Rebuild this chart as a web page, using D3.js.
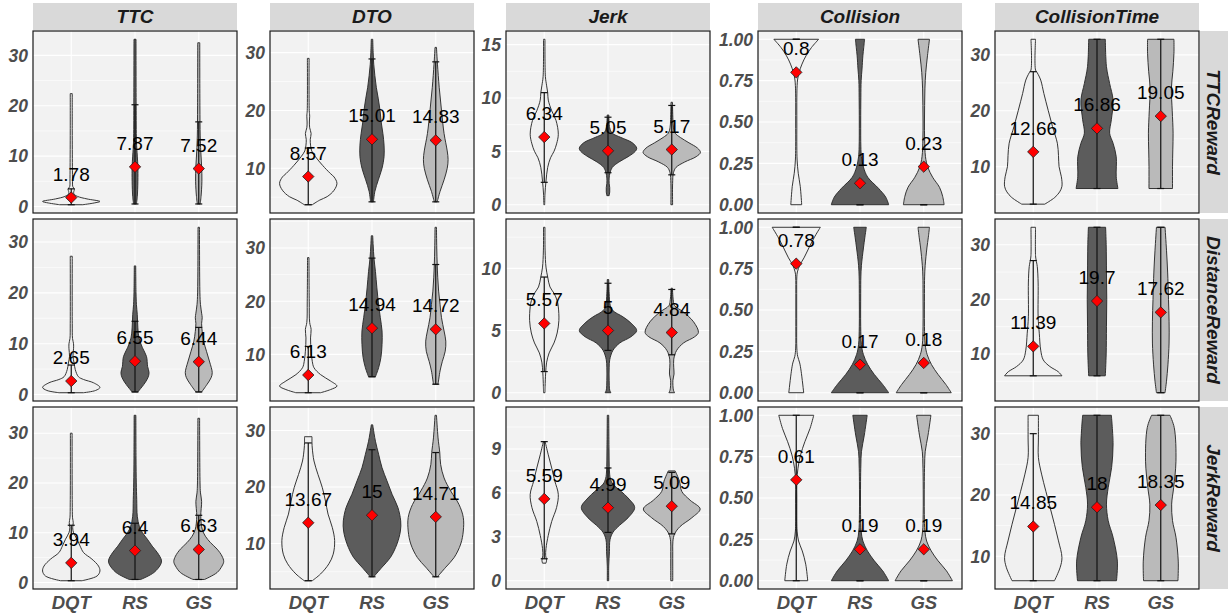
<!DOCTYPE html>
<html><head><meta charset="utf-8">
<script src="https://cdn.jsdelivr.net/npm/d3@7"></script>
<style>
body{margin:0;background:#fff}
svg{display:block}
text{font-family:"Liberation Sans",Arial,Helvetica,sans-serif}
</style>
</head><body>
<svg id="chart" width="1231" height="616"></svg>
<script>
// ---------------- DATA ----------------
const methods = ["DQT", "RS", "GS"];
const metrics = ["TTC", "DTO", "Jerk", "Collision", "CollisionTime"];
const rewards = ["TTCReward", "DistanceReward", "JerkReward"];

// y tick values per reward row / metric column
const yTicks = [
  [[0,10,20,30],[10,20,30],[0,5,10,15],[0,0.25,0.5,0.75,1],[10,20,30]],
  [[0,10,20,30],[10,20,30],[0,5,10],[0,0.25,0.5,0.75,1],[10,20,30]],
  [[0,10,20,30],[10,20,30],[0,3,6,9],[0,0.25,0.5,0.75,1],[10,20,30]]
];

// data extent (min, max) per panel
const yExtent = [
  [[0.35,33.2],[3.7,32.3],[0,15.5],[0,1],[3.2,32.8]],
  [[0.35,32.9],[2.8,33.9],[0,13.3],[0,1],[2.9,33.2]],
  [[0.35,33.6],[3.4,32.7],[0,11.3],[0,1],[6.0,33]]
];

// means (DQT, RS, GS) per panel
const meansTTCReward      = [[1.78,7.87,7.52],[8.57,15.01,14.83],[6.34,5.05,5.17],[0.8,0.13,0.23],[12.66,16.86,19.05]];
const meansDistanceReward = [[2.65,6.55,6.44],[6.13,14.94,14.72],[5.57,5,4.84],[0.78,0.17,0.18],[11.39,19.7,17.62]];
const meansJerkReward     = [[3.94,6.4,6.63],[13.67,15,14.71],[5.59,4.99,5.09],[0.61,0.19,0.19],[14.85,18,18.35]];

// whisker (errorbar) ends [low, high] per panel and method
const whiskTTCReward = [
  [[0.35,3.5],[0.5,20.2],[0.5,16.8]],
  [[3.7,13.5],[4.2,28.9],[4.2,28.4]],
  [[2.1,10.5],[3.0,8.2],[2.8,9.3]],
  [[1,1],[0,0],[0,0]],
  [[3.3,27],[6.1,32.8],[6.1,32.8]]
];
const whiskDistanceReward = [
  [[0.35,5.8],[0.5,14.4],[0.5,13.2]],
  [[2.8,11.5],[5.8,28.1],[4.4,26.9]],
  [[1.7,9.3],[3.4,8.8],[3.05,8.3]],
  [[1,1],[0,0],[0,0]],
  [[6,27.1],[6,33.2],[2.9,33.2]]
];
const whiskJerkReward = [
  [[0.35,11.5],[0.6,11.9],[0.6,13.5]],
  [[3.4,27.8],[4.1,26.6],[4.1,26.1]],
  [[1.5,9.5],[3.3,7.7],[3.2,7.4]],
  [[0,1],[0,0],[0,0]],
  [[6,30],[6,33],[6,33]]
];

// violin density profiles: [value, relative density (1 = widest)]
const violinTTCReward = [
  [ // TTC
    [[0.35,.4],[0.7,.8],[1.0,1.0],[1.5,.55],[2.0,.22],[2.5,.09],[3.0,.09],[3.4,.11],[4.0,.05],[5,.045],[8,.04],[15,.035],[22.4,.035]],
    [[0.5,.05],[2,.08],[5,.1],[8,.1],[10,.08],[13,.05],[20,.04],[33.2,.035]],
    [[0.5,.05],[2,.08],[5,.11],[8,.1],[11,.07],[14,.05],[20,.04],[32.5,.035]]
  ],
  [ // DTO
    [[3.7,.14],[4.5,.4],[5.1,.66],[6.2,.9],[7.4,1.0],[8.5,.9],[9.1,.77],[10.5,.5],[12,.25],[13,.12],[14,.08],[15,.07],[16,.1],[17,.05],[18,.04],[19,.05],[20,.035],[29,.03]],
    [[4.2,.05],[6,.1],[8,.22],[10,.35],[12,.42],[14,.42],[16,.38],[18,.32],[20,.28],[22,.22],[24,.15],[26,.1],[28,.06],[30,.04],[32.3,.025]],
    [[4.2,.05],[6,.15],[8,.29],[10,.4],[11.5,.43],[13,.4],[16,.29],[20,.2],[24,.12],[28,.06],[30.9,.025]]
  ],
  [ // Jerk
    [[0,.015],[1,.025],[2.2,.06],[3.5,.12],[4.4,.22],[5.0,.34],[5.7,.43],[6.6,.49],[7.9,.41],[8.8,.26],[9.8,.14],[10.5,.12],[11.2,.08],[12,.04],[15.5,.025]],
    [[0.85,.04],[1.2,.06],[1.6,.06],[2.0,.04],[2.5,.04],[3.0,.07],[3.5,.15],[4.0,.38],[4.5,.7],[5.0,.95],[5.3,1.0],[5.8,.85],[6.3,.45],[6.7,.15],[7.2,.06],[8.4,.03]],
    [[0,.03],[2,.03],[3,.06],[3.5,.15],[4,.45],[4.5,.85],[4.9,1.0],[5.3,.9],[5.8,.6],[6.3,.3],[6.7,.12],[7.2,.06],[8,.04],[9.6,.025]]
  ],
  [ // Collision
    [[0,.19],[0.11,.14],[0.19,.07],[0.27,.03],[0.35,.02],[0.5,.02],[0.65,.02],[0.72,.03],[0.76,.05],[0.8,.1],[0.85,.2],[0.9,.34],[0.95,.53],[1.0,.78]],
    [[0,1.0],[0.045,.9],[0.1,.64],[0.166,.27],[0.227,.12],[0.29,.05],[0.35,.03],[0.5,.025],[0.65,.03],[0.75,.04],[0.82,.07],[0.9,.1],[0.95,.13],[1.0,.16]],
    [[0,.71],[0.05,.66],[0.105,.55],[0.166,.31],[0.227,.14],[0.29,.06],[0.4,.03],[0.5,.025],[0.6,.03],[0.7,.04],[0.8,.07],[0.9,.13],[1.0,.2]]
  ],
  [ // CollisionTime
    [[3.3,.4],[4.5,.75],[5.5,.92],[6.5,1.0],[8.2,.98],[10,.9],[12,.88],[14.2,.84],[17.2,.67],[20.1,.52],[23.1,.37],[25.5,.26],[26.8,.14],[27.3,.08],[32.8,.08]],
    [[6.1,.73],[8.2,.67],[11.8,.67],[14.2,.56],[16,.44],[18.4,.5],[21.9,.56],[24.9,.44],[27.9,.33],[32.8,.29]],
    [[6.1,.41],[10,.41],[13,.42],[16,.43],[20,.4],[24,.37],[27,.42],[30.3,.46],[32.8,.46]]
  ]
];
const violinDistanceReward = [
  [ // TTC
    [[0.35,.42],[0.8,.85],[1.4,1.0],[2.3,.78],[2.95,.43],[3.5,.25],[4.9,.14],[6.2,.1],[7.5,.06],[9,.08],[10,.08],[11,.045],[14,.035],[27.2,.035]],
    [[0.5,.1],[0.65,.12],[2,.31],[3.3,.45],[4.3,.49],[5.5,.44],[7.5,.4],[9.2,.26],[11.1,.14],[13.1,.1],[15.7,.08],[17.7,.05],[20,.035],[25.3,.025]],
    [[0.5,.1],[2,.29],[3.3,.43],[4.3,.47],[6.4,.38],[8.5,.27],[10.5,.17],[12.4,.12],[14,.1],[15.1,.12],[16,.1],[17.7,.06],[20,.04],[32.9,.025]]
  ],
  [ // DTO
    [[2.8,.43],[3.4,.78],[4.05,1.0],[5.0,.78],[6.2,.43],[7.5,.2],[8.7,.14],[10.6,.1],[13.1,.08],[14.7,.1],[16,.05],[20,.035],[28.2,.025]],
    [[5.8,.12],[7.5,.23],[9.4,.31],[11.9,.35],[14.4,.35],[16.9,.29],[19.4,.23],[22.5,.17],[25.6,.12],[28,.07],[30.6,.04],[32.3,.025]],
    [[4.4,.08],[6.9,.15],[8.7,.23],[10.6,.33],[12.5,.35],[14.4,.29],[16.9,.2],[19.4,.15],[21.9,.1],[24.4,.07],[27,.05],[30,.035],[33.9,.025]]
  ],
  [ // Jerk
    [[0,.025],[0.5,.03],[1.6,.05],[2.4,.08],[3.2,.17],[4.0,.34],[4.8,.45],[5.8,.51],[6.9,.49],[7.4,.45],[8.0,.34],[8.5,.2],[9.3,.12],[10.1,.06],[11.4,.03],[13.3,.025]],
    [[0,.1],[0.2,.06],[1,.04],[2,.04],[2.65,.06],[3.4,.17],[4.0,.41],[4.5,.8],[5.0,1.0],[5.6,.8],[6.1,.52],[6.6,.17],[7,.08],[8,.04],[9.1,.025]],
    [[0,.1],[0.2,.06],[1,.04],[1.5,.08],[2,.07],[2.7,.07],[3.4,.17],[4.0,.41],[4.5,.8],[4.85,.93],[5.7,.76],[6.5,.4],[7.0,.1],[7.5,.05],[8.4,.025]]
  ],
  [ // Collision
    [[0,.26],[0.13,.17],[0.18,.12],[0.22,.05],[0.27,.02],[0.4,.015],[0.5,.015],[0.6,.015],[0.7,.02],[0.73,.04],[0.77,.12],[0.815,.27],[0.875,.44],[0.936,.62],[1.0,.84]],
    [[0,1.0],[0.05,.79],[0.11,.5],[0.17,.27],[0.23,.12],[0.29,.05],[0.4,.025],[0.6,.025],[0.7,.03],[0.77,.05],[0.875,.12],[0.94,.17],[1.0,.22]],
    [[0,.96],[0.05,.77],[0.11,.5],[0.17,.27],[0.23,.12],[0.29,.05],[0.4,.025],[0.6,.025],[0.7,.03],[0.77,.05],[0.875,.11],[0.94,.16],[1.0,.2]]
  ],
  [ // CollisionTime
    [[6.0,1.0],[6.75,.87],[7.7,.58],[8.9,.35],[10.7,.26],[13.8,.21],[16.8,.17],[23,.17],[26,.14],[27.2,.1],[28,.08],[33.2,.08]],
    [[6,.29],[10,.32],[15,.33],[20,.34],[25,.33],[30,.32],[33.2,.3]],
    [[2.9,.15],[5,.2],[8,.25],[12,.29],[16,.29],[20,.27],[25,.24],[29,.2],[33.2,.15]]
  ]
];
const violinJerkReward = [
  [ // TTC
    [[0.35,.37],[1.3,.9],[2.3,1.0],[3.3,.95],[4.7,.72],[6.0,.43],[7.3,.31],[8.7,.2],[10,.08],[11,.05],[12,.07],[13,.045],[16,.035],[30,.03]],
    [[0.6,.2],[2,.66],[3.7,.9],[4.5,.92],[6,.78],[7.3,.6],[8.7,.43],[10,.26],[11.3,.15],[13.3,.08],[16.7,.06],[20,.045],[25,.035],[33.6,.03]],
    [[0.6,.2],[2,.64],[3.3,.81],[4.2,.87],[5.3,.81],[6.7,.64],[8.0,.41],[9.3,.23],[10.7,.12],[13.3,.07],[16.3,.1],[18,.06],[20,.045],[33,.03]]
  ],
  [ // DTO
    [[3.4,.14],[4.6,.43],[6.4,.72],[8.1,.87],[10.5,.92],[12.8,.84],[15.2,.69],[17.5,.6],[19.9,.49],[22.2,.34],[24.6,.2],[26.9,.14],[27.8,.13],[28.9,.13]],
    [[4.1,.06],[5.8,.35],[7.5,.64],[9.9,.87],[12.2,.99],[14,1.0],[16.4,.9],[18.7,.7],[21.1,.52],[23.4,.35],[25.8,.23],[28.1,.12],[30.5,.04],[31,.025]],
    [[4.1,.06],[5.8,.35],[7.5,.64],[9.9,.87],[12.2,.96],[14.6,.96],[16.9,.81],[19.3,.52],[21.6,.29],[24,.17],[26.1,.14],[28.7,.08],[32.7,.025]]
  ],
  [ // Jerk
    [[1.2,.06],[1.4,.08],[1.7,.05],[2.2,.06],[3.1,.14],[4.05,.26],[5.0,.43],[5.9,.49],[6.8,.37],[7.7,.26],[8.6,.14],[9.5,.03]],
    [[0,.025],[1,.025],[2,.05],[2.8,.07],[3.3,.17],[3.8,.41],[4.3,.7],[5.0,.93],[5.65,.7],[6.1,.46],[6.6,.17],[7,.08],[7.5,.05],[9,.035],[11.3,.025]],
    [[0,.035],[1,.035],[2,.035],[2.7,.04],[3.2,.1],[3.7,.29],[4.3,.7],[4.9,.99],[5.5,.64],[6.1,.35],[6.8,.27],[7.5,.12]]
  ],
  [ // Collision
    [[0,.4],[0.1,.33],[0.18,.21],[0.24,.08],[0.3,.03],[0.36,.02],[0.5,.02],[0.6,.02],[0.68,.06],[0.76,.15],[0.84,.3],[0.92,.48],[1.0,.61]],
    [[0,1.0],[0.06,.79],[0.12,.5],[0.18,.26],[0.24,.1],[0.3,.04],[0.4,.02],[0.6,.02],[0.7,.03],[0.78,.05],[0.88,.15],[1.0,.25]],
    [[0,1.0],[0.06,.79],[0.12,.5],[0.18,.26],[0.24,.1],[0.3,.04],[0.4,.02],[0.6,.02],[0.7,.03],[0.78,.05],[0.88,.15],[1.0,.25]]
  ],
  [ // CollisionTime
    [[6,.74],[8.2,.94],[9.8,1.0],[12.5,.88],[15.2,.74],[17.9,.59],[20.6,.44],[23.4,.29],[26.1,.18],[29.3,.18],[33,.18]],
    [[6,.68],[9.2,.71],[13.1,.56],[15.8,.39],[18.5,.33],[21.2,.39],[24.5,.51],[28.3,.56],[33,.5]],
    [[6,.6],[9.2,.61],[13.1,.53],[15.8,.41],[18.5,.38],[21.2,.45],[25.5,.53],[31,.47],[33,.32]]
  ]
];

const meansByRow = [meansTTCReward, meansDistanceReward, meansJerkReward];
const whiskByRow = [whiskTTCReward, whiskDistanceReward, whiskJerkReward];
const violinByRow = [violinTTCReward, violinDistanceReward, violinJerkReward];

// ---------------- LAYOUT / STYLE ----------------
const colLeft = [33, 270, 506, 758, 995];
const rowTop = [31, 219, 407];
const panelW = 204, panelH = 182;
const stripH = 27, stripW = 28;
const fills = {DQT: "#f0f0f0", RS: "#5c5c5c", GS: "#bababa"};

const svg = d3.select("#chart");
svg.append("rect").attr("width", 1231).attr("height", 616).attr("fill", "#fff");

const fmtCollision = d3.format(".2f");

rewards.forEach((rw, r) => {
  metrics.forEach((mt, c) => {
    const left = colLeft[c], top = rowTop[r];
    const g = svg.append("g");
    const [lo, hi] = yExtent[r][c];
    const pad = (hi - lo) * 0.05;
    const y = d3.scaleLinear().domain([lo - pad, hi + pad]).range([top + panelH, top]);
    const x = d3.scalePoint().domain(methods).range([left, left + panelW]).padding(0.6);
    const step = x.step();
    const w = d3.scaleLinear().domain([0, 1]).range([0, 0.45 * step]);

    // background
    g.append("rect").attr("x", left).attr("y", top).attr("width", panelW).attr("height", panelH).attr("fill", "#f2f2f2");

    // grid
    const ticks = yTicks[r][c];
    const tstep = ticks[1] - ticks[0];
    const ext = [ticks[0] - tstep, ...ticks, ticks[ticks.length - 1] + tstep];
    const minors = d3.pairs(ext).map(([a, b]) => (a + b) / 2).filter(v => v >= y.domain()[0] && v <= y.domain()[1]);
    g.selectAll(null).data(minors).join("line")
      .attr("x1", left).attr("x2", left + panelW)
      .attr("y1", d => y(d)).attr("y2", d => y(d))
      .attr("stroke", "#fff").attr("stroke-width", 0.6);
    g.selectAll(null).data(ticks).join("line")
      .attr("x1", left).attr("x2", left + panelW)
      .attr("y1", d => y(d)).attr("y2", d => y(d))
      .attr("stroke", "#fff").attr("stroke-width", 1.1);
    g.selectAll(null).data(methods).join("line")
      .attr("x1", d => x(d)).attr("x2", d => x(d))
      .attr("y1", top).attr("y2", top + panelH)
      .attr("stroke", "#fff").attr("stroke-width", 1.1);

    // violins
    methods.forEach((m, k) => {
      const cx = x(m);
      const prof = violinByRow[r][c][k];
      const area = d3.area()
        .y(d => y(d[0]))
        .x0(d => cx - w(d[1]))
        .x1(d => cx + w(d[1]))
        .curve(d3.curveCatmullRom.alpha(0.5));
      g.append("path").attr("d", area(prof))
        .attr("fill", fills[m]).attr("stroke", "#2b2b2b").attr("stroke-width", 0.95);

      // errorbar
      const [wl, wh] = whiskByRow[r][c][k];
      g.append("line").attr("x1", cx).attr("x2", cx).attr("y1", y(wl)).attr("y2", y(wh))
        .attr("stroke", "#111").attr("stroke-width", 1.2);
      [wl, wh].forEach(v => {
        g.append("line").attr("x1", cx - 3.5).attr("x2", cx + 3.5).attr("y1", y(v)).attr("y2", y(v))
          .attr("stroke", "#111").attr("stroke-width", 1.2);
      });
    });

    // means
    methods.forEach((m, k) => {
      const cx = x(m);
      const mv = meansByRow[r][c][k];
      g.append("path").attr("d", d3.symbol(d3.symbolSquare, 64)())
        .attr("transform", `translate(${cx},${y(mv)}) rotate(45)`)
        .attr("fill", "#ff0000").attr("stroke", "#222").attr("stroke-width", 0.8);
      g.append("text").attr("x", cx).attr("y", y(mv) - 17)
        .attr("text-anchor", "middle").attr("font-size", 19).attr("fill", "#000")
        .text(String(mv));
    });

    // panel border
    g.append("rect").attr("x", left).attr("y", top).attr("width", panelW).attr("height", panelH)
      .attr("fill", "none").attr("stroke", "#1a1a1a").attr("stroke-width", 1.2);

    // y tick labels
    g.selectAll(null).data(ticks).join("text")
      .attr("x", left - 5).attr("y", d => y(d)).attr("dy", "0.36em")
      .attr("text-anchor", "end").attr("font-size", 17.5).attr("font-weight", "bold")
      .attr("font-style", "italic").attr("fill", "#4d4d4d")
      .text(d => mt === "Collision" ? fmtCollision(d) : d3.format("d")(d));

    // x labels (bottom row)
    if (r === rewards.length - 1) {
      g.selectAll(null).data(methods).join("text")
        .attr("x", d => x(d)).attr("y", top + panelH + 20)
        .attr("text-anchor", "middle").attr("font-size", 18.5).attr("font-weight", "bold")
        .attr("font-style", "italic").attr("fill", "#4d4d4d").text(d => d);
    }

    // top strip
    if (r === 0) {
      svg.append("rect").attr("x", left).attr("y", top - stripH - 1).attr("width", panelW).attr("height", stripH)
        .attr("fill", "#d9d9d9");
      svg.append("text").attr("x", left + panelW / 2).attr("y", top - 1 - stripH / 2).attr("dy", "0.36em")
        .attr("text-anchor", "middle").attr("font-size", 19).attr("font-weight", "bold")
        .attr("font-style", "italic").attr("fill", "#1a1a1a").text(mt);
    }
    // right strip
    if (c === metrics.length - 1) {
      const sx = left + panelW + 1;
      svg.append("rect").attr("x", sx).attr("y", top).attr("width", stripW).attr("height", panelH)
        .attr("fill", "#d9d9d9");
      svg.append("text")
        .attr("transform", `translate(${sx + stripW / 2},${top + panelH / 2}) rotate(90)`)
        .attr("dy", "0.36em").attr("text-anchor", "middle").attr("font-size", 19)
        .attr("font-weight", "bold").attr("font-style", "italic").attr("fill", "#1a1a1a").text(rw);
    }
  });
});
</script>
</body></html>
